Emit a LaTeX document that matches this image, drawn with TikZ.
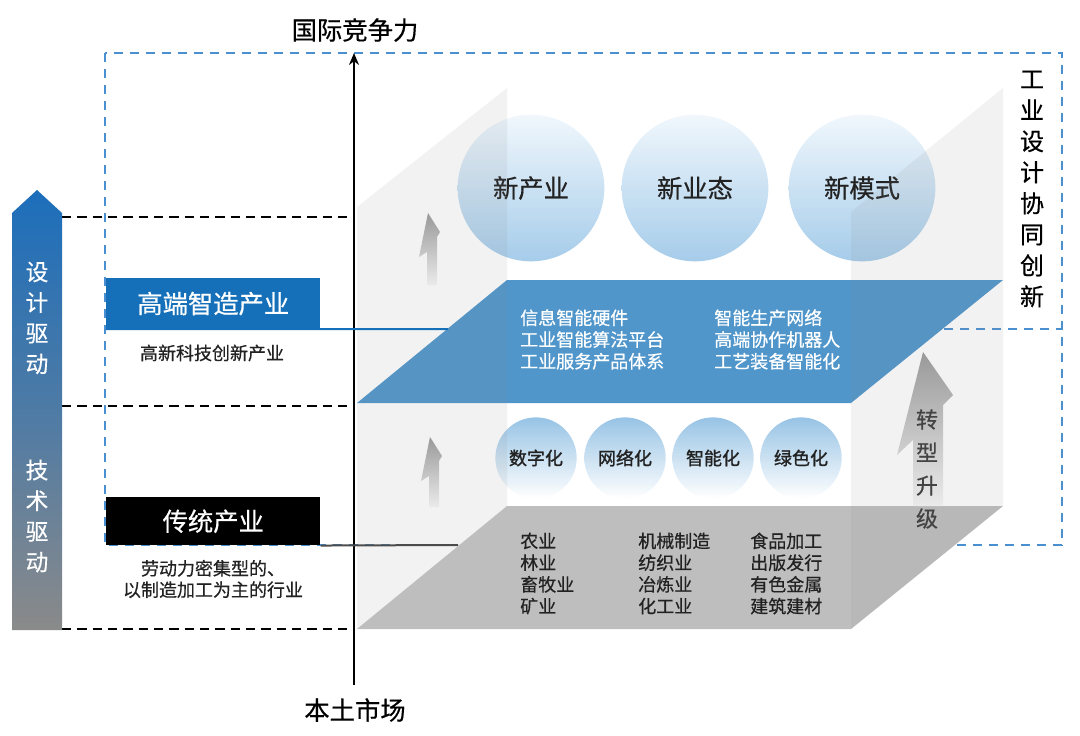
\documentclass[tikz,border=0pt]{standalone}
\usepackage{fontspec}
\setmainfont{Noto Sans CJK SC}[FakeBold=0.5]
\newfontfamily\heavy{Noto Sans CJK SC}[FakeBold=1.3]
\usetikzlibrary{arrows.meta}
\definecolor{deepblue}{HTML}{1570B9}
\definecolor{planeblue}{HTML}{5096CB}
\definecolor{planegrey}{HTML}{BEBEBE}
\definecolor{dashblue}{HTML}{4A90D0}
\definecolor{facegrey}{HTML}{888888}
\definecolor{ballblue}{HTML}{96C3E6}
\definecolor{balltop}{HTML}{EEF6FC}
\definecolor{dotblue}{HTML}{8CBDE2}
\definecolor{textgrey}{HTML}{222222}
\definecolor{arrowgrey}{HTML}{999999}
\definecolor{barblue}{HTML}{1C6EBB}
\definecolor{bargrey}{HTML}{8A8A8A}
\begin{document}
\begin{tikzpicture}[x=0.75pt,y=-0.75pt,
  guideline/.style={line width=1.5pt,dash pattern=on 7pt off 4.5pt},
  dashframe/.style={dashblue,line width=1pt,dash pattern=on 7pt off 5pt},
  sideface/.style={fill=facegrey,fill opacity=0.11},
  bigball/.style={circle,inner sep=0pt,minimum size=110pt,top color=balltop,bottom color=ballblue,fill opacity=0.85,text opacity=1,text=textgrey,font=\fontsize{19}{22}\selectfont},
  smallball/.style={circle,inner sep=0pt,minimum size=61pt,top color=dotblue,bottom color=white,fill opacity=0.9,text opacity=1,text=textgrey,font=\heavy\fontsize{13.5}{16}\selectfont},
  industag/.style={anchor=north west,minimum width=160.5pt,minimum height=38pt,inner sep=0pt,text=white,font=\fontsize{19}{22}\selectfont},
  planetext/.style={anchor=west,align=left,inner sep=0pt,font=\fontsize{13.5}{16.3}\selectfont},
  notetext/.style={align=center,inner sep=0pt,text=textgrey,font=\fontsize{13.5}{16}\selectfont},
  risearrow/.style={top color=arrowgrey,bottom color=white!92!black}]
\useasboundingbox (0,0) rectangle (1080,735);

\draw[dashframe] (105,53) rectangle (1062,545);
\coordinate (bpL) at (448,329);
\coordinate (bpR) at (1062,329);
\draw[dashframe] (bpL) -- (bpR);

\draw[guideline] (62,217) -- (354,217);
\draw[guideline] (62,406) -- (354,406);
\draw[guideline] (62,629) -- (354,629);

\coordinate (axBot) at (354,685);
\coordinate (axTop) at (354,53);
\draw[line width=1.5pt,-{Stealth[length=9pt,width=7.5pt]}] (axBot) -- (axTop);
\node[font=\fontsize{19}{22}\selectfont] (intl) at (355,30) {国际竞争力};
\node[font=\fontsize{19}{22}\selectfont] (local) at (355,710) {本土市场};

% left driving bar
\shade[top color=barblue,bottom color=bargrey,middle color=barblue!55!bargrey]
  (12,630) -- (12,213) -- (37,190) -- (62,213) -- (62,630) -- cycle;
\node[align=center,text=white,font=\fontsize{17}{23}\selectfont] (design) at (37,318) {设\\计\\驱\\动};
\node[align=center,text=white,font=\fontsize{17}{23}\selectfont] (tech) at (37,516) {技\\术\\驱\\动};

% box
\node[bigball] (xcy) at (531,188) {新产业};
\node[bigball] (xyt) at (695,188) {新业态};
\node[bigball] (xms) at (862,188) {新模式};

\fill[planeblue] (357,403) -- (851,403) -- (1003,280) -- (507,280) -- cycle;
\node[smallball] (szh) at (536,458) {数字化};
\node[smallball] (wlh) at (625,458) {网络化};
\node[smallball] (znh) at (713,458) {智能化};
\node[smallball] (lsh) at (801,458) {绿色化};
\fill[planegrey] (357,629) -- (851,629) -- (1003,506) -- (507,506) -- cycle;
\coordinate (gpL) at (458,545);

\fill[sideface] (357,629) -- (357,207) -- (507,88) -- (507,506) -- cycle;
\fill[sideface] (851,629) -- (851,212) -- (1003,88) -- (1003,506) -- cycle;

\shade[risearrow] (428,213) -- (440,232) -- (437,237) -- (437,285) -- (427,285) -- (427,252) -- (419,257) -- cycle;
\shade[risearrow] (430,437) -- (442,456) -- (439,461) -- (439,507) -- (429,507) -- (429,476) -- (421,481) -- cycle;
\shade[risearrow] (923,352) -- (953,395) -- (943,405) -- (943,506) -- (913,506) -- (913,440) -- (897,455) -- cycle;
\node[align=center,text=textgrey!85,font=\fontsize{16.5}{24.75}\selectfont] (zxsj) at (927,469) {转\\型\\升\\级};

\node[planetext,text=white] (bl1) at (520,339.5) {信息智能硬件\\工业智能算法平台\\工业服务产品体系};
\node[planetext,text=white] (bl2) at (714,339.5) {智能生产网络\\高端协作机器人\\工艺装备智能化};
\node[planetext,text=textgrey] (gr1) at (520,573.5) {农业\\林业\\畜牧业\\矿业};
\node[planetext,text=textgrey] (gr2) at (638,573.5) {机械制造\\纺织业\\冶炼业\\化工业};
\node[planetext,text=textgrey] (gr3) at (750,573.5) {食品加工\\出版发行\\有色金属\\建筑建材};

% industry tags
\node[industag,fill=deepblue] (hiInd) at (106,278) {高端智造产业};
\draw[deepblue,line width=1.5pt] (hiInd.south west) -- (bpL);
\node[notetext] (hiNote) at (212,353) {高新科技创新产业};
\node[industag,fill=black,minimum height=36pt] (tradInd) at (106,497) {传统产业};
\draw[black!70,line width=1.5pt] (tradInd.south east) -- (gpL);
\node[notetext] (tradNote) at (213,579) {劳动力密集型的、\\以制造加工为主的行业};

\node[align=center,font=\fontsize{18}{23.3}\selectfont] (cooper) at (1032,189) {工\\业\\设\\计\\协\\同\\创\\新};
\end{tikzpicture}
\end{document}
